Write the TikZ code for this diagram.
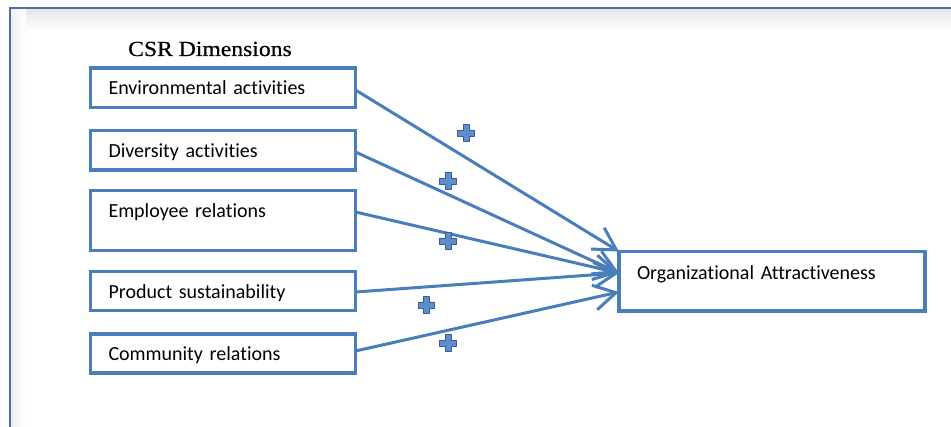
\documentclass[tikz,border=0pt]{standalone}
\usepackage{fontspec}
\setmainfont{Carlito}[Ligatures=NoCommon]
\newfontfamily\titlefont[FakeStretch=1.1,FakeBold=0.6]{Liberation Serif}
\usetikzlibrary{arrows.meta}
\definecolor{boxblue}{RGB}{74,126,187}
\definecolor{frameblue}{RGB}{79,111,160}
\definecolor{plusfill}{RGB}{95,140,205}
\definecolor{plusedge}{RGB}{55,95,150}
\tikzset{
  plussign/.pic={
    \draw[draw=plusedge, fill=plusfill, line width=0.9pt, line join=round]
      (-3,-8.2)--(3,-8.2)--(3,-3)--(8.2,-3)--(8.2,3)--(3,3)--(3,8.2)
      --(-3,8.2)--(-3,3)--(-8.2,3)--(-8.2,-3)--(-3,-3)--cycle;
  }
}
\begin{document}
\begin{tikzpicture}[x=1pt,y=-1pt,
  box/.style={draw=boxblue, line width=3.6pt, rectangle, anchor=north west,
    outer sep=0pt, inner xsep=18pt, inner ysep=0pt, align=left,
    text height=27pt, font=\fontsize{20}{24}\selectfont, text=black},
  lbox/.style={box, text width=229pt},
  link/.style={draw=boxblue, line width=3pt,
    -{Straight Barb[length=22pt,width=25pt]}},
  titletext/.style={anchor=base west, inner sep=0pt,
    font=\titlefont\fontsize{21.5}{26}\selectfont, text=black}
]
\useasboundingbox (0,0) rectangle (951,427);
% frame with faint shadow
\shade[top color=black!10, bottom color=white] (10,9) rectangle (951,30);
\shade[left color=black!6, right color=white] (11,9) rectangle (26,427);
\draw[frameblue, line width=1.8pt] (10,427) -- (10,8) -- (951,8);

\node[titletext] (title) at (128,56) {CSR Dimensions};

\node[lbox, text depth=12.5pt] (env)  at (90.5,68)    {Environmental activities};
\node[lbox, text depth=12.5pt] (div)  at (90.5,130.5) {Diversity activities};
\node[lbox, text depth=33pt]   (emp)  at (90.5,190.5) {Employee relations};
\node[lbox, text depth=12pt]   (prod) at (90.5,271.5) {Product sustainability};
\node[lbox, text depth=12pt]   (comm) at (90.5,334)   {Community relations};
\node[box, text width=270pt, text height=28pt, text depth=31.5pt] (oa) at (619,251.5)
  {Organizational Attractiveness};

\draw[link] ([yshift=-2.25pt]env.east)  -- (oa.north west);
\draw[link] ([yshift=-1.75pt]div.east)  -- ([yshift=8.25pt]oa.west);
\draw[link] ([yshift=8.5pt]emp.east)    -- ([yshift=8.25pt]oa.west);
\draw[link] ([yshift=-1pt]prod.east)    -- ([yshift=8.25pt]oa.west);
\draw[link] ([yshift=2.5pt]comm.east)   -- ([yshift=-10.75pt]oa.west);

\pic (p1) at (466,133) {plussign};
\pic (p2) at (448,181) {plussign};
\pic (p3) at (448,241) {plussign};
\pic (p4) at (426.5,305) {plussign};
\pic (p5) at (448,343) {plussign};
\end{tikzpicture}
\end{document}
